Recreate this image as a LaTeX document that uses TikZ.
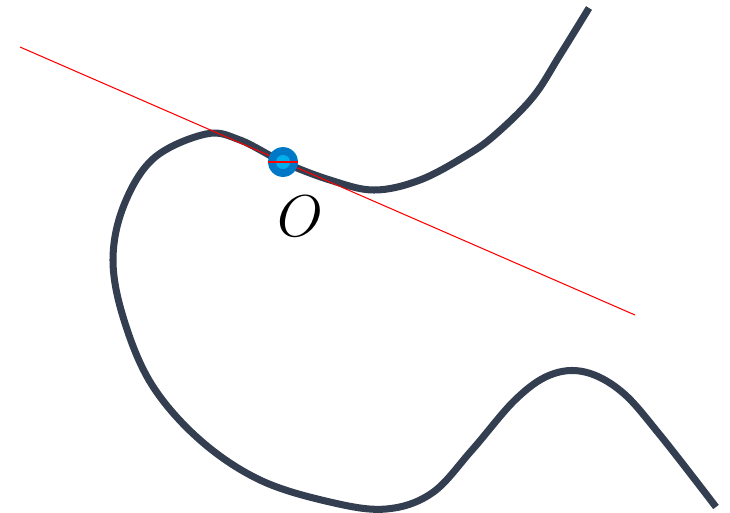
\documentclass[tikz,border=0pt]{standalone}
\usepackage{amsmath, amssymb}
\tikzstyle{crv}=[line width=4pt, color={rgb,255:red,51;green,63;blue,80}, line cap=butt]
\tikzstyle{tgt}=[red, line width=0.6pt]
\tikzstyle{pt}=[shape=circle, minimum size=17pt, inner sep=0, fill={rgb,255:red,0;green,120;blue,200}]
\tikzstyle{ptin}=[shape=circle, minimum size=8pt, inner sep=0, fill={rgb,255:red,0;green,175;blue,235}]

\begin{document}
\begin{tikzpicture}[x=0.02cm, y=-0.02cm]
\useasboundingbox (0,0) rectangle (730,512);
%\draw[help lines,step=50] (0,0) grid (730,512);
\draw[crv] plot[smooth, tension=0.6] coordinates {(589,8) (560,55) (533,97) (496,134) (467,155) (420,180) (374,190) (330,180) (283,162) (240,140) (206,134) (154,158) (124,205) (113,260) (124,320) (152,385) (200,440) (260,480) (330,502) (386,509) (432,493) (472,450) (515,400) (550,375) (585,372) (622,392) (660,435) (716,507)};
\coordinate (l1) at (20,47);
\coordinate (l2) at (635,315);
\draw[tgt] (l1)--(l2);
\node at (283,162)[pt](O){};
\node at (O)[ptin](Oc){};
\draw[tgt] (O.west)--(O.east);
\node at (300,216)[scale=1.35](lab){\Huge$O$};
\end{tikzpicture}
\end{document}
